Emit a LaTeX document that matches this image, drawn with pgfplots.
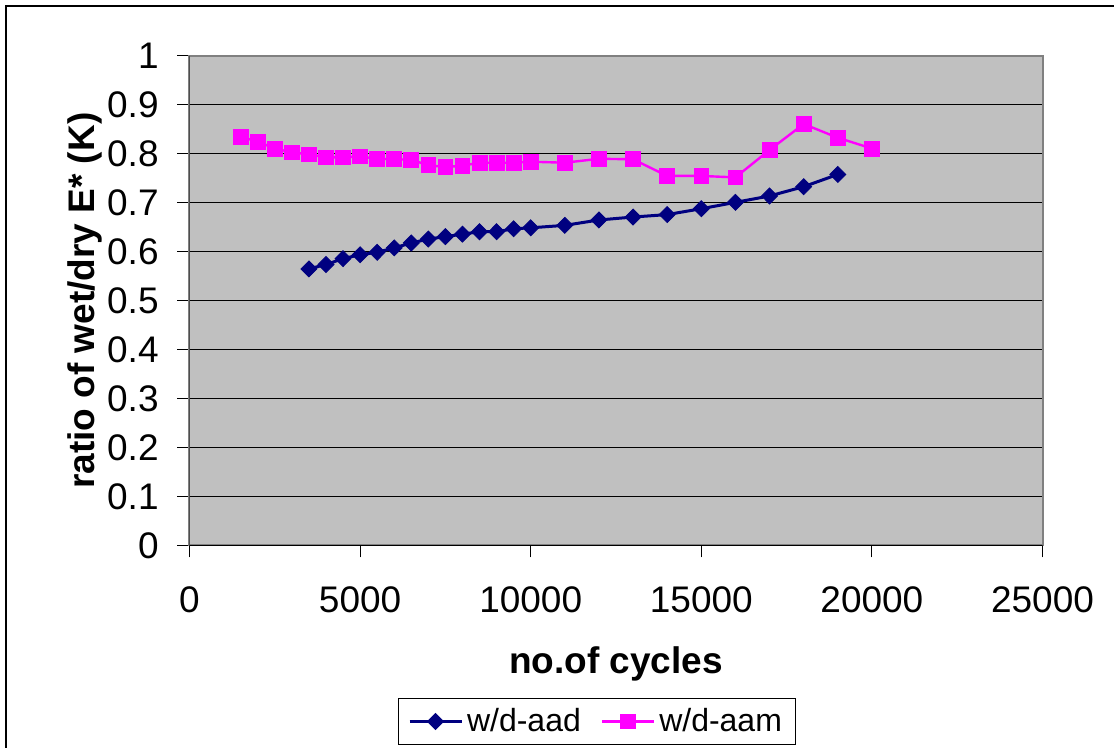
\documentclass[border=0pt]{standalone}
\usepackage{fontspec}
\setmainfont{Liberation Sans}
\usepackage{pgfplots}
\usepackage{pgfplotstable}
\pgfplotsset{compat=1.18}

\definecolor{aadblue}{HTML}{000080}
\definecolor{aammag}{HTML}{FF00FF}
\definecolor{plotbg}{HTML}{C0C0C0}
\definecolor{framegray}{HTML}{808080}

% wet/dry E* ratio, air-aged dry
\pgfplotstableread{
cycles ratio
3500  0.565
4000  0.574
4500  0.586
5000  0.594
5500  0.599
6000  0.608
6500  0.618
7000  0.626
7500  0.631
8000  0.636
8500  0.641
9000  0.641
9500  0.647
10000 0.649
11000 0.654
12000 0.665
13000 0.671
14000 0.676
15000 0.688
16000 0.701
17000 0.714
18000 0.733
19000 0.758
}\aad

% wet/dry E* ratio, air-aged moist
\pgfplotstableread{
cycles ratio
1500  0.835
2000  0.825
2500  0.811
3000  0.803
3500  0.799
4000  0.793
4500  0.793
5000  0.795
5500  0.790
6000  0.789
6500  0.788
7000  0.777
7500  0.773
8000  0.776
8500  0.782
9000  0.782
9500  0.782
10000 0.784
11000 0.782
12000 0.790
13000 0.789
14000 0.755
15000 0.755
16000 0.752
17000 0.808
18000 0.861
19000 0.833
20000 0.811
}\aam

\newcommand{\tickfont}{\fontsize{18.5}{20}\selectfont}
\newcommand{\labfont}{\fontsize{18.5}{20}\selectfont\bfseries}
\newcommand{\legfont}{\fontsize{16}{18}\selectfont}

\begin{document}
\begin{tikzpicture}
\begin{axis}[
  at={(0pt,0pt)}, anchor=south west,
  scale only axis,
  width=426.5pt, height=244.75pt,
  xmin=0, xmax=25000, ymin=0, ymax=1,
  xtick={0,5000,10000,15000,20000,25000},
  ytick={0,0.1,0.2,0.3,0.4,0.5,0.6,0.7,0.8,0.9,1},
  scaled x ticks=false,
  xtick pos=bottom, ytick pos=left,
  tick align=outside,
  major tick length=6pt,
  tick style={black, line width=0.5pt},
  ymajorgrids,
  major grid style={black, line width=0.5pt},
  axis background/.style={fill=plotbg},
  axis line style={draw=framegray, line width=1pt},
  /pgf/number format/assume math mode=true,
  /pgf/number format/1000 sep={},
  xticklabel style={font=\tickfont, anchor=base, yshift=-27.5pt, inner sep=0pt},
  yticklabel style={font=\tickfont, anchor=east, inner sep=0pt, xshift=-9.25pt,
    /pgf/number format/fixed, /pgf/number format/precision=1},
  xlabel={no.of cycles},
  ylabel={ratio of wet/dry E* (K)},
  xlabel style={font=\labfont, at={(axis description cs:0.5,-0.2605)}, anchor=base},
  ylabel style={font=\labfont, at={(axis description cs:-0.1108,0.5)}, anchor=base, rotate=0},
  legend columns=2,
  legend style={at={(axis description cs:0.4777,-0.3595)}, anchor=center,
    draw=black, line width=0.5pt, font=\legfont, inner xsep=5pt, inner ysep=3pt,
    /tikz/every even column/.append style={column sep=8pt}},
  legend cell align=left,
  legend image code/.code={%
    \draw[#1, mark repeat=2, mark phase=2] plot coordinates {(0pt,0pt) (13pt,0pt) (26pt,0pt)};},
]
\addplot[aadblue, line width=1.5pt, mark=diamond*, mark size=4pt,
  mark options={xscale=1.33, line width=0.4pt, fill=aadblue}]
  table[x=cycles, y=ratio] {\aad};
\addlegendentry{w/d-aad}
\addplot[aammag, line width=1.2pt, mark=square*, mark size=3.7pt,
  mark options={line width=0.4pt, fill=aammag}]
  table[x=cycles, y=ratio] {\aam};
\addlegendentry{w/d-aam}
% darker left and bottom axis lines
\draw[black, line width=0.6pt] (rel axis cs:0,0) -- (rel axis cs:1,0);
\draw[black!80, line width=1pt] (rel axis cs:0,0) -- (rel axis cs:0,1);
\end{axis}
% outer chart frame
\draw[black, line width=0.8pt] (-91.75pt,-130pt) rectangle (490pt,269.75pt);
\pgfresetboundingbox
\useasboundingbox (-94.75pt,-101.25pt) rectangle (462.25pt,272.75pt);
\end{tikzpicture}
\end{document}
